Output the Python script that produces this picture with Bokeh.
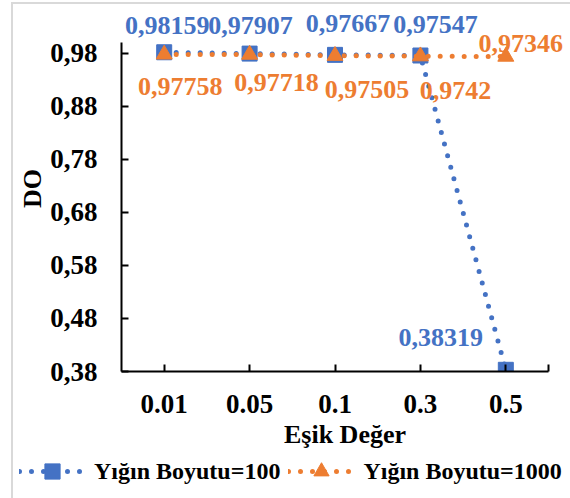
from bokeh.plotting import figure
from bokeh.models import (ColumnDataSource, FixedTicker, Range1d, Legend, LegendItem)
from bokeh.layouts import column
from bokeh.core.properties import value
from bokeh.embed import file_html
from bokeh.resources import INLINE

# Threshold values (x categories) and DO scores for two batch sizes
thresholds = ["0.01", "0.05", "0.1", "0.3", "0.5"]
do_batch_100 = [0.98159, 0.97907, 0.97667, 0.97547, 0.38319]
do_batch_1000 = [0.97758, 0.97718, 0.97505, 0.9742, 0.97346]
y_ticks = [0.38, 0.48, 0.58, 0.68, 0.78, 0.88, 0.98]
series_names = ["Yığın Boyutu=100", "Yığın Boyutu=1000"]

BLUE = "#4472C4"
ORANGE = "#ED7D31"
FONT = "Liberation Serif"

xs = list(range(len(thresholds)))


def fmt(v):
    return str(v).replace(".", ",")


line_style = dict(line_width=5, line_dash="0 12", line_cap="round")
marker_100 = dict(marker="square", size=15)
marker_1000 = dict(marker="triangle", size=16)

# Main chart. The frame is a bit larger than the drawn axes so the value
# labels have room above and to the right.
p = figure(width=570, height=456, output_backend="svg", toolbar_location=None,
           x_range=Range1d(-0.5, 4.734), y_range=Range1d(0.38, 1.0697),
           min_border_left=121, min_border_right=2, min_border_top=5,
           min_border_bottom=85)
p.frame_align = False
p.outline_line_color = None
p.grid.grid_line_color = None
p.background_fill_color = "white"
p.border_fill_alpha = 0

# x axis: category labels, small inward ticks
p.xaxis.bounds = (-0.5, 4.5)
p.xaxis.ticker = FixedTicker(ticks=xs, minor_ticks=[0, 1, 2, 3, 4, 4.5])
p.xaxis.major_label_overrides = {i: t for i, t in enumerate(thresholds)}
p.xaxis.major_tick_in = 0
p.xaxis.major_tick_out = 0
p.xaxis.minor_tick_in = 7
p.xaxis.minor_tick_out = 0
p.xaxis.minor_tick_line_width = 2
p.xaxis.axis_label = "Eşik Değer"

# y axis with comma decimals
p.yaxis.bounds = (0.38, 1.0)
p.yaxis.ticker = FixedTicker(ticks=y_ticks, minor_ticks=[])
p.yaxis.major_label_overrides = {t: f"{t:.2f}".replace(".", ",") for t in y_ticks}
p.yaxis.major_tick_in = 7
p.yaxis.major_tick_out = 0
p.yaxis.major_tick_line_width = 2
p.yaxis.major_label_standoff = 24
p.yaxis.axis_label = "DO"

for ax in (p.xaxis, p.yaxis):
    ax.axis_line_width = 2
    ax.axis_line_color = "black"
    ax.major_tick_line_color = "black"
    ax.minor_tick_line_color = "black"
    ax.major_label_text_font = FONT
    ax.major_label_text_font_style = "bold"
    ax.major_label_text_font_size = "27px"
    ax.major_label_text_color = "black"
    ax.axis_label_text_font = FONT
    ax.axis_label_text_font_style = "bold"
    ax.axis_label_text_font_size = "26px"
    ax.axis_label_text_color = "black"
p.xaxis.major_label_standoff = 23
p.xaxis.axis_label_standoff = 4
p.yaxis.axis_label_standoff = 0

src100 = ColumnDataSource(dict(x=xs, y=do_batch_100,
                               lbl=[fmt(v) for v in do_batch_100],
                               dx=[3, 1, 13, 15, -65],
                               dy=[-27, -28, -31, -31, -32]))
src1000 = ColumnDataSource(dict(x=xs, y=do_batch_1000,
                                lbl=[fmt(v) for v in do_batch_1000],
                                dx=[16, 27, 32, 35, 15],
                                dy=[32, 28, 34, 34, -13]))

p.line("x", "y", source=src100, color=BLUE, **line_style)
p.scatter("x", "y", source=src100, fill_color=BLUE, line_color=BLUE, **marker_100)
p.line("x", "y", source=src1000, color=ORANGE, **line_style)
p.scatter("x", "y", source=src1000, fill_color=ORANGE, line_color=ORANGE, **marker_1000)

for src, col in ((src100, BLUE), (src1000, ORANGE)):
    p.text("x", "y", text="lbl", source=src, x_offset="dx", y_offset="dy",
           text_color=col, text_font=value(FONT), text_font_style="bold",
           text_font_size="26px", text_align="center", text_baseline="middle")

# Legend strip under the chart, with the same line and marker styles.
# Its renderers hold one point outside the visible range, so only the
# legend swatches show.
lg = figure(width=570, height=42, output_backend="svg", toolbar_location=None,
            x_range=Range1d(0, 1), y_range=Range1d(0, 1),
            min_border=0, x_axis_type=None, y_axis_type=None)
lg.frame_align = False
lg.outline_line_color = None
lg.grid.grid_line_color = None
lg.background_fill_alpha = 0
lg.border_fill_alpha = 0
r = []
for col, mk in ((BLUE, marker_100), (ORANGE, marker_1000)):
    ln = lg.line(x=[-10, -9], y=[-10, -10], color=col, **line_style)
    sc = lg.scatter(x=[-10], y=[-10], fill_color=col, line_color=col, **mk)
    r.append([ln, sc])

legend = Legend(items=[LegendItem(label=n, renderers=rr) for n, rr in zip(series_names, r)],
                orientation="horizontal", location=(19, 8))
legend.label_text_font = FONT
legend.label_text_font_style = "bold"
legend.label_text_font_size = "24px"
legend.label_text_color = "black"
legend.glyph_width = 66
legend.glyph_height = 38
legend.label_standoff = 9
legend.label_height = 24
legend.spacing = 8
legend.padding = 0
legend.margin = 0
legend.border_line_color = None
legend.background_fill_alpha = 0
lg.add_layout(legend, "center")

# Light grey chart-area edge along the left and top of the page
layout = column(p, lg, spacing=0)
layout.styles = {
    "background": ("linear-gradient(#d9d9d9, #d9d9d9) 11px 2px / 2px 496px no-repeat, "
                   "linear-gradient(#d9d9d9, #d9d9d9) 11px 2px / 559px 2px no-repeat, "
                   "white"),
}
open("out.html", "w").write(file_html(layout, INLINE))
